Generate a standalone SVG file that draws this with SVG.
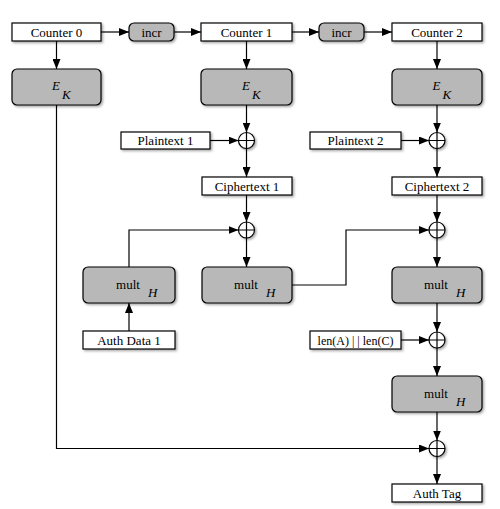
<svg xmlns="http://www.w3.org/2000/svg" width="500" height="509" viewBox="0 0 500 509">
<defs>
<filter id="sh" x="-10%" y="-20%" width="130%" height="160%">
<feDropShadow dx="1.5" dy="1.5" stdDeviation="1" flood-color="#000" flood-opacity="0.35"/>
</filter>
<marker id="ar" viewBox="0 0 10 8" refX="10" refY="4" markerWidth="10" markerHeight="8" markerUnits="userSpaceOnUse" orient="auto">
<path d="M0,0 L10,4 L0,8 Z" fill="#000"/>
</marker>
</defs>
<style>
.bx{fill:#fff;stroke:#000;stroke-width:1.2;filter:url(#sh)}
.rb{fill:#b8b8b8;stroke:#000;stroke-width:1.2;filter:url(#sh)}
.x{fill:#fff;stroke:#000;stroke-width:1.2;filter:url(#sh)}
.xl{stroke:#000;stroke-width:1.2;fill:none}
.t{font-family:"Liberation Serif","DejaVu Serif",serif;font-size:13px;fill:#000;text-anchor:middle}
.i{font-family:"Liberation Serif","DejaVu Serif",serif;font-size:13px;font-style:italic;fill:#000}
.c{stroke:#000;stroke-width:1.2;fill:none;marker-end:url(#ar)}
</style>
<rect width="500" height="509" fill="#fff"/>
<g id="connectors">
<line class="c" x1="101" y1="32" x2="129" y2="32"/>
<line class="c" x1="174" y1="32" x2="201" y2="32"/>
<line class="c" x1="292" y1="32" x2="319" y2="32"/>
<line class="c" x1="364" y1="32" x2="392" y2="32"/>
<line class="c" x1="56.5" y1="41" x2="56.5" y2="69"/>
<line class="c" x1="246.5" y1="41" x2="246.5" y2="69"/>
<line class="c" x1="437" y1="41" x2="437" y2="69"/>
<line class="c" x1="246.5" y1="105" x2="246.5" y2="132.5"/>
<line class="c" x1="437" y1="105" x2="437" y2="132.5"/>
<line class="c" x1="210" y1="140.5" x2="238.5" y2="140.5"/>
<line class="c" x1="401" y1="140.5" x2="429" y2="140.5"/>
<line class="c" x1="246.5" y1="148.5" x2="246.5" y2="177"/>
<line class="c" x1="437" y1="148.5" x2="437" y2="177"/>
<line class="c" x1="246.5" y1="195" x2="246.5" y2="222"/>
<line class="c" x1="437" y1="195" x2="437" y2="222"/>
<polyline class="c" points="129,267 129,230 238.5,230"/>
<line class="c" x1="246.5" y1="238" x2="246.5" y2="267"/>
<polyline class="c" points="292,285 346,285 346,230 429,230"/>
<line class="c" x1="437" y1="238" x2="437" y2="267"/>
<line class="c" x1="129" y1="331" x2="129" y2="303"/>
<line class="c" x1="437" y1="303" x2="437" y2="332"/>
<line class="c" x1="401" y1="340" x2="429" y2="340"/>
<line class="c" x1="437" y1="348" x2="437" y2="376"/>
<line class="c" x1="437" y1="412" x2="437" y2="440.5"/>
<polyline class="c" points="56.5,105 56.5,448.5 429,448.5"/>
<line class="c" x1="437" y1="456.5" x2="437" y2="484"/>
</g>
<g id="counter0"><rect class="bx" x="12" y="23" width="89" height="18"/><text class="t" x="56.5" y="36.5">Counter 0</text></g>
<g id="incr1"><rect class="rb" x="129" y="23" width="45" height="18" rx="5"/><text class="t" x="151.5" y="36.5">incr</text></g>
<g id="counter1"><rect class="bx" x="201" y="23" width="91" height="18"/><text class="t" x="246.5" y="36.5">Counter 1</text></g>
<g id="incr2"><rect class="rb" x="319" y="23" width="45" height="18" rx="5"/><text class="t" x="341.5" y="36.5">incr</text></g>
<g id="counter2"><rect class="bx" x="392" y="23" width="90" height="18"/><text class="t" x="437" y="36.5">Counter 2</text></g>
<g id="ek0"><rect class="rb" x="12" y="69" width="89" height="36" rx="5"/><text class="i" x="52" y="89.5">E</text><text class="i" x="62" y="98.5">K</text></g>
<g id="ek1"><rect class="rb" x="201" y="69" width="91" height="36" rx="5"/><text class="i" x="242" y="89.5">E</text><text class="i" x="252" y="98.5">K</text></g>
<g id="ek2"><rect class="rb" x="392" y="69" width="90" height="36" rx="5"/><text class="i" x="432.5" y="89.5">E</text><text class="i" x="442.5" y="98.5">K</text></g>
<g id="plaintext1"><rect class="bx" x="121" y="132" width="89" height="17"/><text class="t" x="165.5" y="145">Plaintext 1</text></g>
<g id="plaintext2"><rect class="bx" x="310" y="132" width="91" height="17"/><text class="t" x="355.5" y="145">Plaintext 2</text></g>
<g id="xor1"><circle class="x" cx="246.5" cy="140.5" r="8"/><path class="xl" d="M238.5,140.5 H254.5 M246.5,132.5 V148.5"/></g>
<g id="xor2"><circle class="x" cx="437" cy="140.5" r="8"/><path class="xl" d="M429,140.5 H445 M437,132.5 V148.5"/></g>
<g id="ciphertext1"><rect class="bx" x="202" y="177" width="90" height="18"/><text class="t" x="247" y="190.5">Ciphertext 1</text></g>
<g id="ciphertext2"><rect class="bx" x="392" y="177" width="90" height="18"/><text class="t" x="437" y="190.5">Ciphertext 2</text></g>
<g id="xor3"><circle class="x" cx="246.5" cy="230" r="8"/><path class="xl" d="M238.5,230 H254.5 M246.5,222 V238"/></g>
<g id="xor4"><circle class="x" cx="437" cy="230" r="8"/><path class="xl" d="M429,230 H445 M437,222 V238"/></g>
<g id="mult1"><rect class="rb" x="83" y="267" width="92" height="36" rx="5"/><text class="t" x="128" y="288.5">mult</text><text class="i" x="148" y="297">H</text></g>
<g id="mult2"><rect class="rb" x="202" y="267" width="90" height="36" rx="5"/><text class="t" x="246" y="288.5">mult</text><text class="i" x="266" y="297">H</text></g>
<g id="mult3"><rect class="rb" x="392" y="267" width="90" height="36" rx="5"/><text class="t" x="436" y="288.5">mult</text><text class="i" x="456" y="297">H</text></g>
<g id="authdata1"><rect class="bx" x="83" y="331" width="92" height="18"/><text class="t" x="129" y="344.5">Auth Data 1</text></g>
<g id="lenac"><rect class="bx" x="310" y="331" width="91" height="18"/><text class="t" x="355.5" y="344.5" style="font-size:12px">len(A) | | len(C)</text></g>
<g id="xor5"><circle class="x" cx="437" cy="340" r="8"/><path class="xl" d="M429,340 H445 M437,332 V348"/></g>
<g id="mult4"><rect class="rb" x="392" y="376" width="90" height="36" rx="5"/><text class="t" x="436" y="397.5">mult</text><text class="i" x="456" y="406">H</text></g>
<g id="xor6"><circle class="x" cx="437" cy="448.5" r="8"/><path class="xl" d="M429,448.5 H445 M437,440.5 V456.5"/></g>
<g id="authtag"><rect class="bx" x="392" y="484" width="90" height="18"/><text class="t" x="437" y="497.5">Auth Tag</text></g>
</svg>
